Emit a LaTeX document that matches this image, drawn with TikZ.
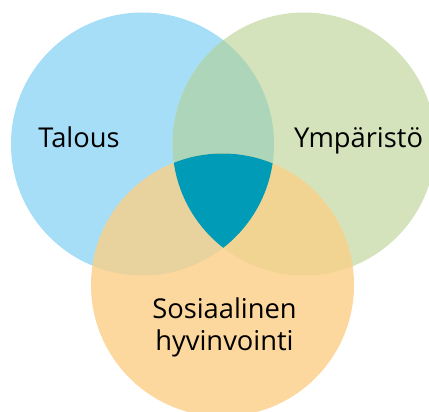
\documentclass[tikz,border=0pt]{standalone}
\usepackage{fontspec}
\setmainfont{Open Sans}
\begin{document}
\begin{tikzpicture}[x=1pt,y=-1pt,
  lbl/.style={font=\fontsize{27.3}{32}\selectfont, text=black, inner sep=0pt, anchor=base, align=center}]
\definecolor{cblue}{HTML}{A6DEF7}
\definecolor{cgreen}{HTML}{D4E3BC}
\definecolor{corange}{HTML}{FCD89E}
\definecolor{cbg}{HTML}{ADD5B9}
\definecolor{cbo}{HTML}{E8D29E}
\definecolor{cgo}{HTML}{F2D492}
\definecolor{ccenter}{HTML}{009BB6}
\useasboundingbox (0,0) rectangle (429,412);
\clip (0,0) rectangle (429,412);
\def\rr{131.5}
\coordinate (L) at (142.5,144);
\coordinate (R) at (304,144);
\coordinate (B) at (222.5,285);
\fill[cblue] (L) circle (\rr);
\fill[cgreen] (R) circle (\rr);
\fill[corange] (B) circle (\rr);
\begin{scope}
  \clip (L) circle (\rr);
  \fill[cbg] (R) circle (\rr);
  \fill[cbo] (B) circle (\rr);
\end{scope}
\begin{scope}
  \clip (R) circle (\rr);
  \fill[cgo] (B) circle (\rr);
\end{scope}
\begin{scope}
  \clip (L) circle (\rr);
  \clip (R) circle (\rr);
  \fill[ccenter] (B) circle (\rr);
\end{scope}
\node[lbl] (talous) at (79,148) {Talous};
\node[lbl] (ymp) at (358.5,148) {Ympäristö};
\node[lbl] (sos) at (224.5,318) {Sosiaalinen};
\node[lbl] (hyv) at (224.5,350) {hyvinvointi};
\end{tikzpicture}
\end{document}
